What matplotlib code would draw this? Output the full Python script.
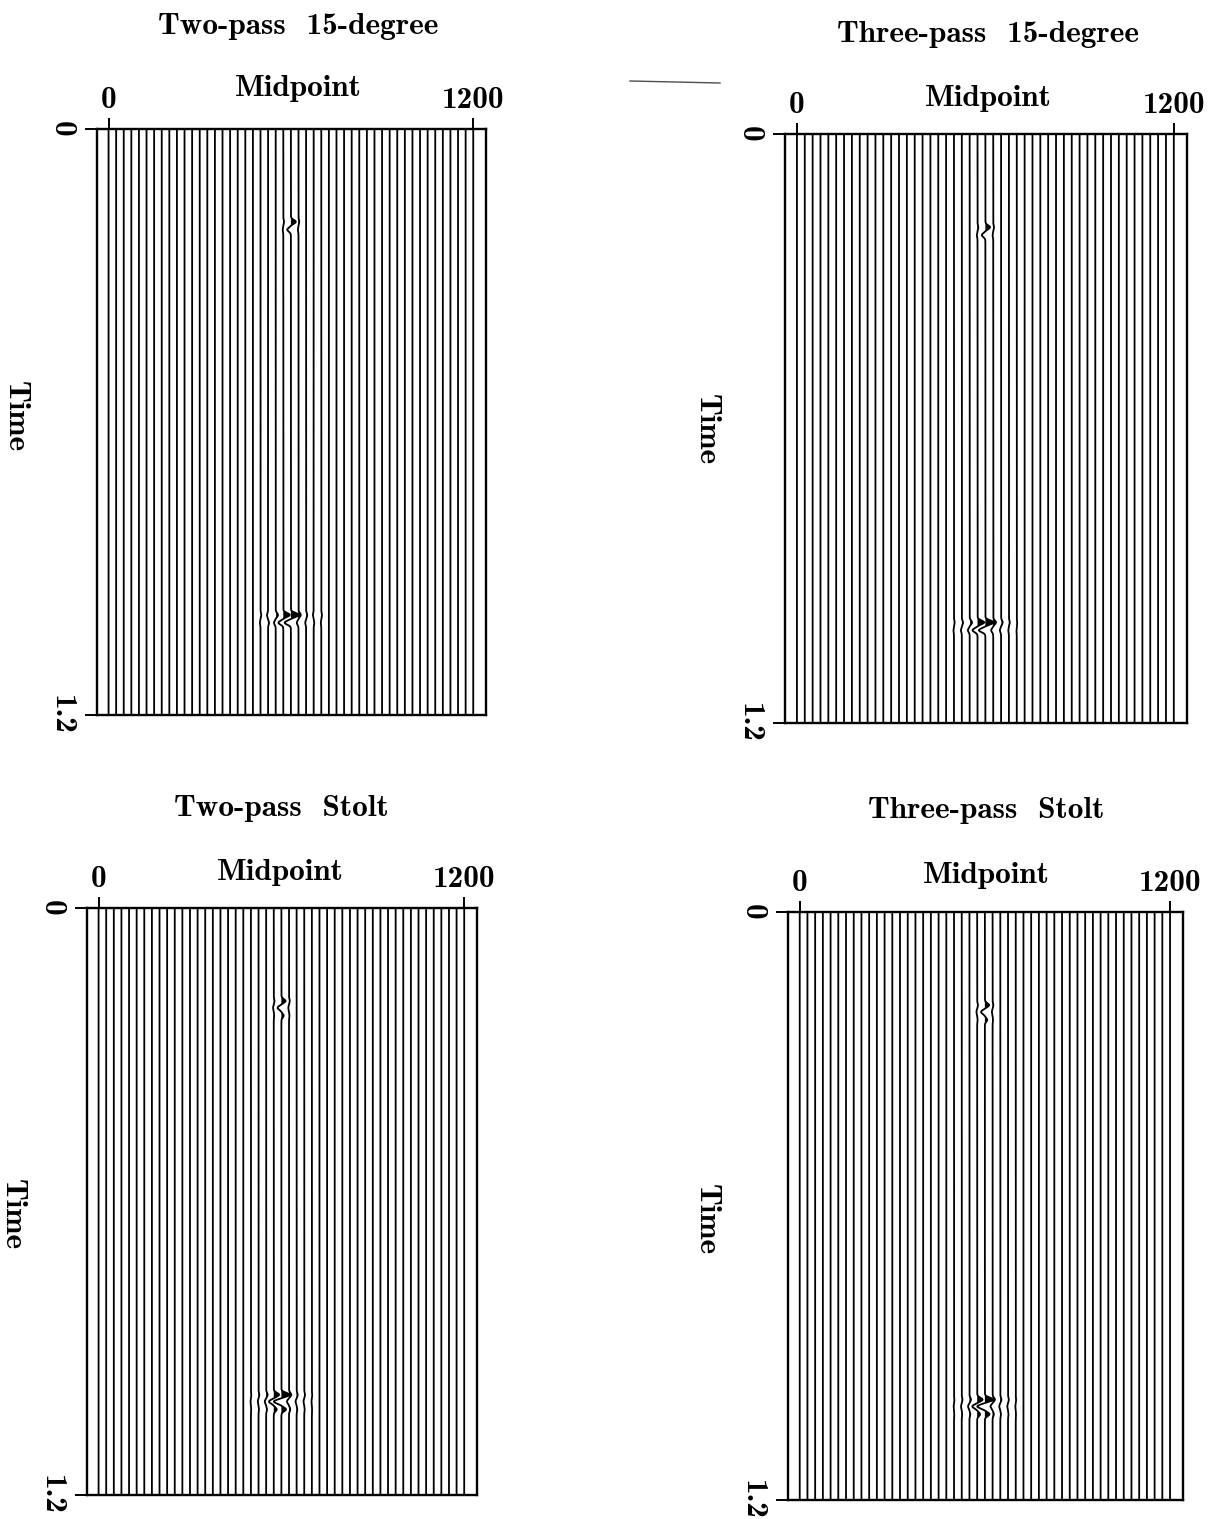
import numpy as np
import matplotlib
matplotlib.use('Agg')
import matplotlib.pyplot as plt
from matplotlib.lines import Line2D

plt.rcParams['font.family'] = ['cmb10', 'DejaVu Serif']
plt.rcParams['axes.unicode_minus'] = False

W, H = 1208, 1519
FS = 22.5

# ---------------- data ----------------
midpoints = list(range(0, 1201, 25))          # trace positions (49 traces)
mid_ticks = [0, 1200]
mid_tick_labels = ['0', '1200']
time_ticks = [0, 1.2]
time_tick_labels = ['0', '1.2']
titles = ['Two-pass  15-degree', 'Three-pass  15-degree',
          'Two-pass  Stolt', 'Three-pass  Stolt']

event_trace = 600                              # midpoint of the point scatterer
shallow_time = 0.19
deep_time = 0.995
offsets = [-4, -3, -2, -1, 0, 1, 2, 3, 4]      # traces around event_trace

# amplitudes in units of trace spacing, per offset
p1_shallow = [0, 0, 0, 0.10, 0.65, 0.10, 0, 0, 0]
p1_deep = [0.10, -0.15, 0.30, 0.85, 1.10, 0.30, 0.15, -0.10, 0.08]
p2_shallow = [0, 0, 0, 0.10, 0.60, 0.10, 0, 0, 0]
p2_deep = [0.08, 0.15, 0.30, 0.85, 1.10, 0.35, 0.20, 0.10, 0.05]
p3_shallow = [0, 0, 0, 0.10, 0.55, 0.10, 0, 0, 0]
p3_deep = [0.05, 0.10, 0.20, 0.70, 1.10, 0.30, 0.15, 0.10, 0.05]
p4_shallow = [0, 0, 0, 0.10, 0.55, 0.10, 0, 0, 0]
p4_deep = [0.05, 0.10, 0.20, 0.70, 1.10, 0.30, 0.15, 0.10, 0.05]

# wavelet lobes (relative time, relative amplitude)
fd_lobe_t = [0.0, 0.016]
fd_lobe_a = [1.0, -0.75]
stolt_lobe_t = [0.0, 0.014, 0.030]
stolt_lobe_a = [1.0, -0.90, 0.55]
lobe_sigma = 0.0055

panels = [
    dict(shallow=p1_shallow, deep=p1_deep, lt=fd_lobe_t, la=fd_lobe_a),
    dict(shallow=p2_shallow, deep=p2_deep, lt=fd_lobe_t, la=fd_lobe_a),
    dict(shallow=p3_shallow, deep=p3_deep, lt=stolt_lobe_t, la=stolt_lobe_a),
    dict(shallow=p4_shallow, deep=p4_deep, lt=stolt_lobe_t, la=stolt_lobe_a),
]

# ---------------- layout (pixels) ----------------
axes_px = [(97, 486, 129, 715), (785, 1187, 134, 723),
           (87, 477, 908, 1495), (788, 1183, 912, 1500)]
title_px = [(298, 27), (988, 35), (281, 808), (986, 811)]
midlabel_px = [(298, 89), (988, 99), (280, 873), (986, 876)]
timelabel_px = [(15, 417), (706, 430), (12, 1215), (706, 1220)]

fig = plt.figure(figsize=(W / 100, H / 100), dpi=100)

t = np.linspace(0, 1.2, 2401)
spacing = 25.0

def wavelet(t0, lt, la):
    w = np.zeros_like(t)
    for dt, a in zip(lt, la):
        w += a * np.exp(-((t - t0 - dt) / lobe_sigma) ** 2)
    return w

for k, p in enumerate(panels):
    l, r, tp, bt = axes_px[k]
    ax = fig.add_axes([l / W, 1 - bt / H, (r - l) / W, (bt - tp) / H])
    ws = wavelet(shallow_time, p['lt'], p['la'])
    wd = wavelet(deep_time, p['lt'], p['la'])
    for m in midpoints:
        amp_s, amp_d = 0.0, 0.0
        off = (m - event_trace) // 25
        if off in offsets:
            i = offsets.index(off)
            amp_s = p['shallow'][i]
            amp_d = p['deep'][i]
        x = m + spacing * (amp_s * ws + amp_d * wd)
        ax.plot(x, t, color='k', lw=1.3, solid_capstyle='butt')
        ax.fill_betweenx(t, m, x, where=x > m + 1.0, color='k', lw=0)
    ax.set_xlim(-38, 1242)
    ax.set_ylim(1.2, 0)
    ax.xaxis.tick_top()
    ax.set_xticks(mid_ticks, mid_tick_labels)
    ax.set_yticks(time_ticks, time_tick_labels)
    ax.tick_params(axis='x', direction='out', length=8, width=1.4, pad=3,
                   labelsize=FS)
    ax.tick_params(axis='y', direction='out', length=9, width=1.4, pad=7,
                   labelsize=FS, labelrotation=-90)
    for lbl in ax.get_yticklabels():
        lbl.set_va('center')
    for s in ax.spines.values():
        s.set_linewidth(1.7)
    x0, y0 = title_px[k]
    fig.text(x0 / W, 1 - y0 / H, titles[k], ha='center', va='center',
             fontsize=FS)
    x0, y0 = midlabel_px[k]
    fig.text(x0 / W, 1 - y0 / H, 'Midpoint', ha='center', va='center',
             fontsize=FS)
    x0, y0 = timelabel_px[k]
    fig.text(x0 / W, 1 - y0 / H, 'Time', ha='center', va='center',
             fontsize=FS, rotation=-90)

# scan artefact line at the top
fig.add_artist(Line2D([630 / W, 720 / W], [1 - 81 / H, 1 - 83 / H],
                      color='0.3', lw=1.0, transform=fig.transFigure))

fig.savefig('out.png', dpi=100, facecolor='white')
